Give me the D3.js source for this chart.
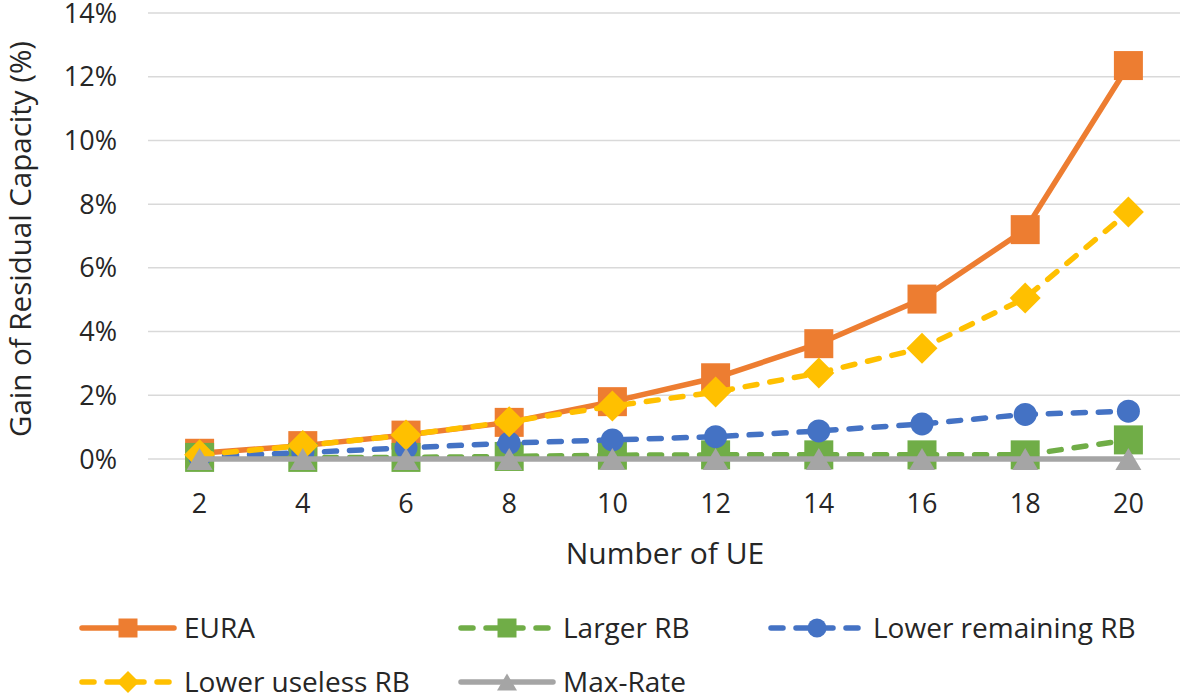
<!DOCTYPE html>
<html>
<head>
<meta charset="utf-8">
<script src="https://cdn.jsdelivr.net/npm/d3@7"></script>
<style>
  body { margin: 0; background: #fff; }
  text { font-family: "Open Sans", sans-serif; fill: #262626; }
</style>
</head>
<body>
<script>
// categories (number of UE)
var ueCounts = [2, 4, 6, 8, 10, 12, 14, 16, 18, 20];
// series values, in %
var eura        = [0.18, 0.42, 0.75, 1.15, 1.8, 2.55, 3.62, 5.02, 7.2, 12.35];
var largerRb    = [0.05, 0.05, 0.05, 0.08, 0.12, 0.13, 0.13, 0.13, 0.13, 0.6];
var lowerRemain = [0.08, 0.2, 0.35, 0.5, 0.6, 0.7, 0.88, 1.1, 1.4, 1.5];
var lowerUseless = [0.13, 0.42, 0.75, 1.17, 1.66, 2.1, 2.7, 3.48, 5.05, 7.75];
var maxRate     = [0, 0, 0, 0, 0, 0, 0, 0, 0, 0];
var yTicks = [0, 2, 4, 6, 8, 10, 12, 14];

var series = [
  {name: "EURA", values: eura, color: "#ED7D31", dash: null, marker: "square"},
  {name: "Larger RB", values: largerRb, color: "#70AD47", dash: "12,13", marker: "square"},
  {name: "Lower remaining RB", values: lowerRemain, color: "#4472C4", dash: "12,13", marker: "circle"},
  {name: "Lower useless RB", values: lowerUseless, color: "#FFC000", dash: "12,13", marker: "diamond"},
  {name: "Max-Rate", values: maxRate, color: "#A5A5A5", dash: null, marker: "triangle"}
];

var svg = d3.select("body").append("svg")
  .attr("width", 1180)
  .attr("height", 698);

var x = d3.scalePoint()
  .domain(ueCounts)
  .range([148, 1180])
  .padding(0.5);

var y = d3.scaleLinear()
  .domain([0, 14])
  .range([459, 13]);

// gridlines
svg.selectAll("line.grid")
  .data(yTicks)
  .enter().append("line")
    .attr("class", "grid")
    .attr("x1", 148)
    .attr("x2", 1180)
    .attr("y1", d => y(d))
    .attr("y2", d => y(d))
    .attr("stroke", "#D9D9D9")
    .attr("stroke-width", 1.5);

// y tick labels
svg.selectAll("text.ytick")
  .data(yTicks)
  .enter().append("text")
    .attr("class", "ytick")
    .attr("x", 117)
    .attr("y", d => y(d) + 9.5)
    .attr("text-anchor", "end")
    .attr("font-size", 27)
    .text(d => d + "%");

// x tick labels
svg.selectAll("text.xtick")
  .data(ueCounts)
  .enter().append("text")
    .attr("class", "xtick")
    .attr("x", d => x(d))
    .attr("y", 513)
    .attr("text-anchor", "middle")
    .attr("font-size", 27)
    .text(d => d);

// axis titles
svg.append("text")
  .attr("x", 665)
  .attr("y", 564)
  .attr("text-anchor", "middle")
  .attr("font-size", 30)
  .text("Number of UE");

svg.append("text")
  .attr("transform", "translate(31,239) rotate(-90)")
  .attr("text-anchor", "middle")
  .attr("font-size", 29.5)
  .text("Gain of Residual Capacity (%)");

// marker path by type, s = size
function markerPath(type, s) {
  var h = s / 2;
  if (type == "square") return "M" + (-h) + "," + (-h) + "H" + h + "V" + h + "H" + (-h) + "Z";
  if (type == "diamond") return "M0," + (-h) + "L" + h + ",0L0," + h + "L" + (-h) + ",0Z";
  if (type == "triangle") return "M0," + (-h * 0.85) + "L" + h + "," + (h * 0.85) + "L" + (-h) + "," + (h * 0.85) + "Z";
  return "M" + (-h) + ",0A" + h + "," + h + " 0 1,1 " + h + ",0A" + h + "," + h + " 0 1,1 " + (-h) + ",0Z";
}
var markerSize = {square: 29, diamond: 31, circle: 23, triangle: 26};

var line = d3.line()
  .x((d, i) => x(ueCounts[i]))
  .y(d => y(d));

series.forEach(function(s) {
  var g = svg.append("g");
  g.append("path")
    .attr("d", line(s.values))
    .attr("fill", "none")
    .attr("stroke", s.color)
    .attr("stroke-width", 5.5)
    .attr("stroke-linecap", s.dash ? "round" : "butt")
    .attr("stroke-linejoin", "round")
    .attr("stroke-dasharray", s.dash);
  g.selectAll("path.mk")
    .data(s.values)
    .enter().append("path")
      .attr("class", "mk")
      .attr("transform", (d, i) => "translate(" + x(ueCounts[i]) + "," + y(d) + ")")
      .attr("d", markerPath(s.marker, markerSize[s.marker]))
      .attr("fill", s.color);
});

// legend
var legendPos = [
  {x: 79, y: 628}, {x: 458, y: 628}, {x: 768, y: 628},
  {x: 79, y: 682}, {x: 458, y: 682}
];
var legendMarker = {square: 19, diamond: 22, circle: 19, triangle: 20};

var lg = svg.selectAll("g.legend")
  .data(series)
  .enter().append("g")
    .attr("class", "legend")
    .attr("transform", (d, i) => "translate(" + legendPos[i].x + "," + legendPos[i].y + ")");

lg.append("line")
  .attr("x1", 3)
  .attr("x2", 95)
  .attr("stroke", d => d.color)
  .attr("stroke-width", 5.5)
  .attr("stroke-linecap", "round")
  .attr("stroke-dasharray", d => d.dash ? "12,13" : null);

lg.append("path")
  .attr("transform", "translate(49,0)")
  .attr("d", d => markerPath(d.marker, legendMarker[d.marker]))
  .attr("fill", d => d.color);

lg.append("text")
  .attr("x", 105)
  .attr("y", 10)
  .attr("font-size", 28)
  .text(d => d.name);
</script>
</body>
</html>
